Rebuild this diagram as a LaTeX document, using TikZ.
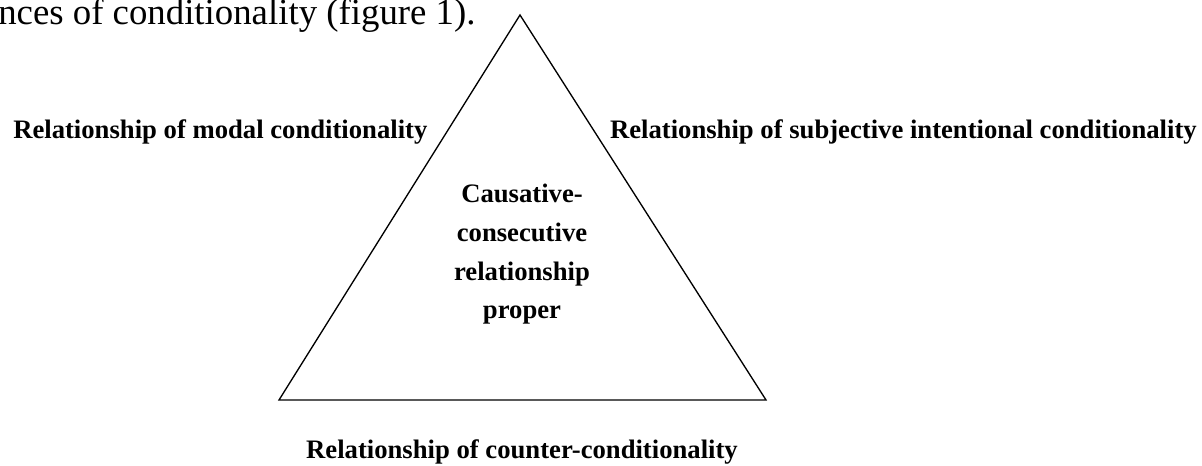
\documentclass[tikz,border=0pt]{standalone}
\usepackage{fontspec}
\setmainfont{Liberation Serif}
\begin{document}
\begin{tikzpicture}[x=0.75pt,y=-0.75pt,
  lbl/.style={font=\fontsize{20}{29}\selectfont\bfseries, inner sep=0pt},
  tri/.style={draw, line width=1pt, line join=miter}]
\useasboundingbox (0,0) rectangle (1202,466);
\node[anchor=base west, inner sep=0pt, font=\fontsize{27.6}{32}\selectfont] (top) at (-2,25) {nces of conditionality (figure 1).};
\coordinate (A) at (520,15);
\coordinate (B) at (279,400);
\coordinate (C) at (766,400);
\draw[tri] (A) -- (B) -- (C) -- cycle;
\node[lbl, anchor=base west] (modal) at (13,139) {Relationship of modal conditionality};
\node[lbl, anchor=base east] (subj) at (1197,139) {Relationship of subjective intentional conditionality};
\node[lbl, align=center, anchor=base] (cc) at (522,319) {Causative-\\consecutive\\relationship\\proper};
\node[lbl, anchor=base] (counter) at (522,458) {Relationship of counter-conditionality};
\end{tikzpicture}
\end{document}
